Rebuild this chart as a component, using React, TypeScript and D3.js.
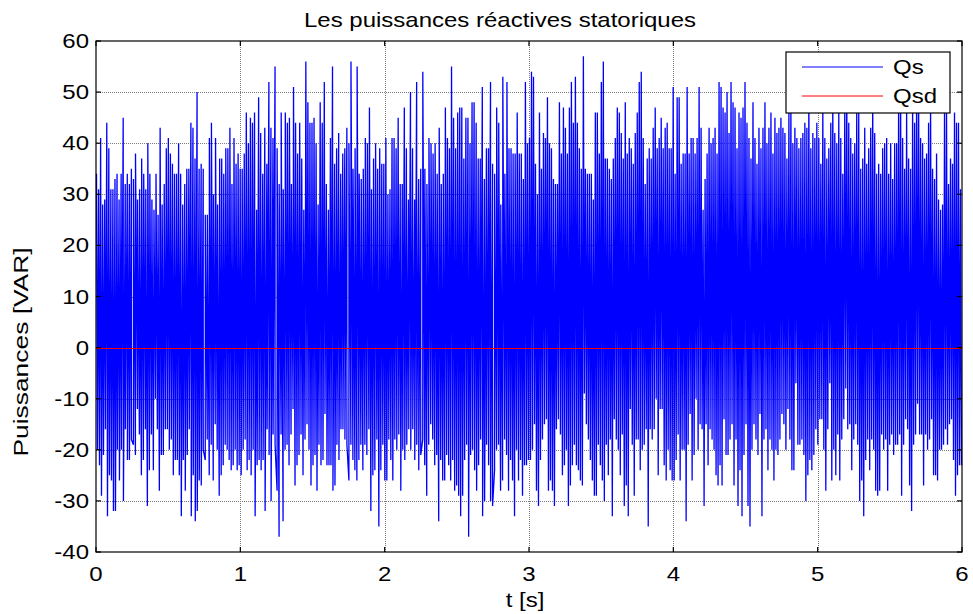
import React, { useEffect, useRef } from "react";
import * as d3 from "d3";

const W = 973;
const H = 614;

const titleText = "Les puissances réactives statoriques";
const xLabelText = "t [s]";
const yLabelText = "Puissances [VAR]";
const xTicks = [0, 1, 2, 3, 4, 5, 6];
const yTicks = [-40, -30, -20, -10, 0, 10, 20, 30, 40, 50, 60];
const seriesNames = ["Qs", "Qsd"];

// peak values of Qs (t 0..3 and t 3..6)
const qsMaxA = [
  34, 31, 41, 28, 29, 44, 39, 31, 31, 33, 34, 29, 34, 45, 32, 34, 32, 35, 33, 38, 29, 31, 37, 34, 31, 40, 34, 29, 27, 34,
  26, 43, 28, 32, 39, 41, 38, 36, 34, 34, 40, 34, 28, 32, 35, 35, 44, 43, 37, 50, 35, 36, 35, 26, 26, 41, 44, 30, 41, 28,
  37, 37, 34, 39, 39, 43, 32, 41, 36, 38, 35, 35, 38, 46, 40, 45, 44, 46, 27, 49, 42, 34, 43, 36, 52, 43, 41, 55, 39, 32,
  46, 31, 46, 44, 45, 32, 51, 44, 38, 44, 37, 27, 56, 48, 44, 44, 45, 40, 28, 48, 44, 52, 32, 27, 41, 55, 36, 39, 42, 34,
  38, 39, 43, 40, 56, 35, 39, 55, 34, 33, 35, 41, 40, 47, 31, 37, 40, 35, 39, 36, 36, 41, 30, 31, 41, 41, 39, 45, 32, 32,
  47, 39, 29, 50, 39, 29, 52, 33, 35, 54, 35, 32, 41, 40, 38, 40, 34, 43, 32, 34, 47, 41, 39, 55, 45, 39, 46, 47, 47, 37,
  45, 45, 40, 48, 48, 44, 37, 37, 51, 33, 39, 39, 52, 36, 34, 47, 44, 28, 53, 34, 52, 39, 39, 38, 38, 46, 38, 38, 33, 52,
  40,
];
const qsMaxB = [
  41, 54, 53, 36, 30, 46, 35, 42, 41, 49, 40, 39, 33, 32, 32, 48, 38, 47, 43, 38, 47, 52, 44, 53, 44, 39, 35, 57, 35, 34,
  34, 34, 29, 46, 46, 38, 52, 56, 37, 37, 35, 33, 37, 41, 47, 46, 42, 37, 48, 38, 41, 39, 36, 42, 46, 52, 54, 41, 32, 37,
  39, 37, 43, 47, 39, 41, 45, 39, 43, 44, 39, 39, 51, 34, 49, 49, 36, 38, 38, 51, 38, 41, 41, 38, 41, 51, 43, 27, 33, 38,
  43, 40, 41, 43, 38, 52, 51, 47, 46, 50, 42, 52, 48, 47, 39, 46, 45, 47, 52, 44, 41, 37, 48, 41, 36, 43, 39, 43, 48, 40,
  43, 46, 38, 45, 42, 43, 45, 43, 42, 37, 46, 48, 40, 43, 41, 39, 41, 42, 44, 43, 50, 39, 42, 41, 44, 41, 36, 47, 41, 37,
  39, 44, 49, 42, 40, 46, 41, 34, 48, 51, 44, 41, 38, 40, 47, 46, 35, 37, 43, 36, 39, 43, 49, 42, 34, 36, 34, 39, 40, 41,
  34, 40, 33, 40, 40, 50, 48, 41, 35, 46, 37, 35, 47, 44, 49, 51, 41, 40, 37, 38, 44, 48, 35, 33, 38, 29, 27, 28, 47, 46,
  32, 37, 36, 46, 44, 44, 31,
];
const qsMinA = [
  -20, -23, -29, -21, -16, -33, -25, -26, -32, -32, -20, -26, -20, -30, -16, -22, -22, -18, -19, -21, -12, -17, -25, -22,
  -16, -31, -24, -17, -24, -10, -16, -28, -21, -21, -16, -16, -20, -18, -25, -22, -22, -25, -33, -22, -28, -21, -16, -33,
  -25, -34, -32, -26, -27, -20, -22, -18, -25, -19, -26, -15, -20, -29, -25, -23, -19, -20, -22, -24, -23, -20, -24, -23,
  -25, -20, -18, -24, -22, -25, -20, -33, -23, -22, -24, -22, -32, -16, -21, -30, -17, -19, -28, -37, -17, -34, -20, -19,
  -23, -17, -12, -27, -23, -21, -17, -25, -18, -15, -20, -27, -23, -21, -28, -19, -23, -22, -13, -23, -23, -23, -28, -27,
  -19, -22, -16, -16, -18, -19, -26, -19, -22, -24, -26, -22, -19, -24, -19, -21, -16, -32, -25, -24, -18, -35, -24, -19,
  -26, -26, -18, -22, -26, -18, -20, -17, -28, -20, -22, -19, -16, -20, -16, -22, -19, -24, -21, -18, -23, -29, -19, -15,
  -18, -23, -21, -34, -22, -26, -26, -21, -23, -26, -22, -28, -27, -29, -33, -29, -22, -19, -37, -21, -20, -24, -28, -23,
  -18, -33, -30, -19, -23, -30, -31, -24, -20, -19, -28, -26, -18, -21, -28, -22, -26, -33, -20, -26, -22, -29, -23, -23,
  -22,
];
const qsMinB = [
  -22, -20, -15, -28, -31, -22, -18, -15, -14, -28, -26, -28, -31, -16, -14, -17, -25, -23, -20, -31, -27, -23, -19, -23,
  -24, -26, -27, -9, -15, -18, -22, -26, -29, -29, -19, -23, -26, -30, -19, -25, -18, -33, -14, -18, -20, -25, -17, -31,
  -27, -33, -12, -19, -29, -18, -18, -24, -20, -19, -16, -35, -16, -18, -16, -10, -25, -12, -12, -23, -26, -20, -24, -26,
  -26, -22, -17, -26, -20, -20, -34, -19, -13, -26, -21, -10, -20, -15, -16, -31, -15, -23, -16, -18, -20, -25, -27, -23,
  -27, -14, -21, -21, -18, -15, -27, -18, -31, -24, -33, -21, -15, -31, -35, -20, -15, -18, -21, -13, -33, -18, -16, -24,
  -18, -20, -26, -20, -21, -18, -13, -15, -20, -12, -18, -24, -24, -7, -19, -19, -18, -21, -30, -25, -22, -24, -21, -16,
  -19, -14, -14, -20, -28, -16, -7, -26, -20, -25, -17, -26, -18, -14, -8, -16, -15, -24, -18, -15, -19, -30, -26, -33,
  -22, -18, -24, -18, -20, -28, -29, -28, -17, -20, -18, -28, -19, -17, -21, -19, -19, -17, -29, -19, -14, -16, -27, -32,
  -19, -17, -11, -17, -17, -27, -17, -20, -18, -14, -25, -25, -26, -20, -20, -19, -16, -19, -15, -14, -22, -29, -25, -23,
  -23,
];
const qsdTimes = [0, 6];
const qsdValues = [0, 0];

type Pt = { t: number; v: number };

const spread = (vals: number[], t0: number, t1: number, phase: number): Pt[] =>
  vals.map((v, i) => ({ t: t0 + ((i + phase) * (t1 - t0)) / vals.length, v }));

const FS = 20;
const SX = 1.2;
const FONT = "'Liberation Sans', Arial, Helvetica, sans-serif";

const App = () => {
  const svgRef = useRef<SVGSVGElement>(null);

  useEffect(() => {
    const left = 96, right = 962, top = 41, bottom = 552;
    const x = d3.scaleLinear().domain([0, 6]).range([left, right]);
    const y = d3.scaleLinear().domain([-40, 60]).range([bottom, top]);

    const svg = d3.select(svgRef.current);
    svg.selectAll("*").remove();
    svg.append("rect").attr("width", W).attr("height", H).attr("fill", "white");

    // grid
    const grid = svg.append("g").attr("stroke", "#7a7a7a").attr("stroke-width", 1).attr("stroke-dasharray", "1,1");
    grid.selectAll("line.gx").data(xTicks.slice(1, -1)).join("line")
      .attr("x1", (d) => Math.round(x(d)) + 0.5).attr("x2", (d) => Math.round(x(d)) + 0.5)
      .attr("y1", top).attr("y2", bottom);
    grid.selectAll("line.gy").data(yTicks.slice(1, -1)).join("line")
      .attr("y1", (d) => Math.round(y(d)) + 0.5).attr("y2", (d) => Math.round(y(d)) + 0.5)
      .attr("x1", left).attr("x2", right);

    // Qs
    const pts = [
      ...spread(qsMaxA, 0, 3, 0.25), ...spread(qsMinA, 0, 3, 0.75),
      ...spread(qsMaxB, 3, 6, 0.25), ...spread(qsMinB, 3, 6, 0.75),
    ].sort((a, b) => a.t - b.t);
    const line = d3.line<Pt>().x((d) => x(d.t)).y((d) => y(d.v));
    svg.append("path").datum(pts).attr("d", line).attr("fill", "none")
      .attr("stroke", "#0000ff").attr("stroke-width", 1.3);

    // Qsd
    const yl = d3.line<Pt>().x((d) => x(d.t)).y((d) => Math.round(y(d.v)) + 0.5);
    const qsd = qsdTimes.map((t, i) => ({ t, v: qsdValues[i] }));
    svg.append("path").datum(qsd).attr("d", yl).attr("fill", "none")
      .attr("stroke", "#ff0000").attr("stroke-width", 1.2).attr("shape-rendering", "crispEdges");

    // box and ticks
    const ax = svg.append("g").attr("stroke", "black").attr("stroke-width", 1.2).attr("fill", "none");
    ax.append("rect").attr("x", left).attr("y", top).attr("width", right - left).attr("height", bottom - top);
    const tl = 5;
    xTicks.forEach((t) => {
      ax.append("line").attr("x1", x(t)).attr("x2", x(t)).attr("y1", bottom).attr("y2", bottom - tl);
      ax.append("line").attr("x1", x(t)).attr("x2", x(t)).attr("y1", top).attr("y2", top + tl);
    });
    yTicks.forEach((t) => {
      ax.append("line").attr("y1", y(t)).attr("y2", y(t)).attr("x1", left).attr("x2", left + tl);
      ax.append("line").attr("y1", y(t)).attr("y2", y(t)).attr("x1", right).attr("x2", right - tl);
    });

    const txt = (g: any, s: string, tx: number, ty: number, anchor: string, rot = 0, sx = SX) =>
      g.append("text")
        .attr("transform", `translate(${tx},${ty}) rotate(${rot}) scale(${sx},1)`)
        .attr("text-anchor", anchor)
        .attr("font-family", FONT).attr("font-size", FS).attr("fill", "black")
        .text(s);

    const labels = svg.append("g");
    xTicks.forEach((t) => txt(labels, String(t), x(t), 581, "middle"));
    yTicks.forEach((t) => txt(labels, String(t), 89, y(t) + 7, "end"));
    txt(labels, titleText, 500, 27, "middle");
    txt(labels, xLabelText, 525, 607, "middle");
    txt(labels, yLabelText, 28, 352, "middle", -90, 1.32);

    // legend
    const lg = svg.append("g");
    lg.append("rect").attr("x", 786).attr("y", 52).attr("width", 164).attr("height", 61)
      .attr("fill", "white").attr("stroke", "black").attr("stroke-width", 1.2);
    const colors = ["#0000ff", "#ff0000"];
    seriesNames.forEach((name, i) => {
      const ly = 67 + i * 29;
      lg.append("line").attr("x1", 802).attr("x2", 883).attr("y1", ly).attr("y2", ly)
        .attr("stroke", colors[i]).attr("stroke-width", 1);
      txt(lg, name, 893, ly + 7, "start");
    });
  }, []);

  return (
    <svg ref={svgRef} width={W} height={H}
      style={{ position: "absolute", left: 0, top: 0, display: "block" }} />
  );
};

export default App;
